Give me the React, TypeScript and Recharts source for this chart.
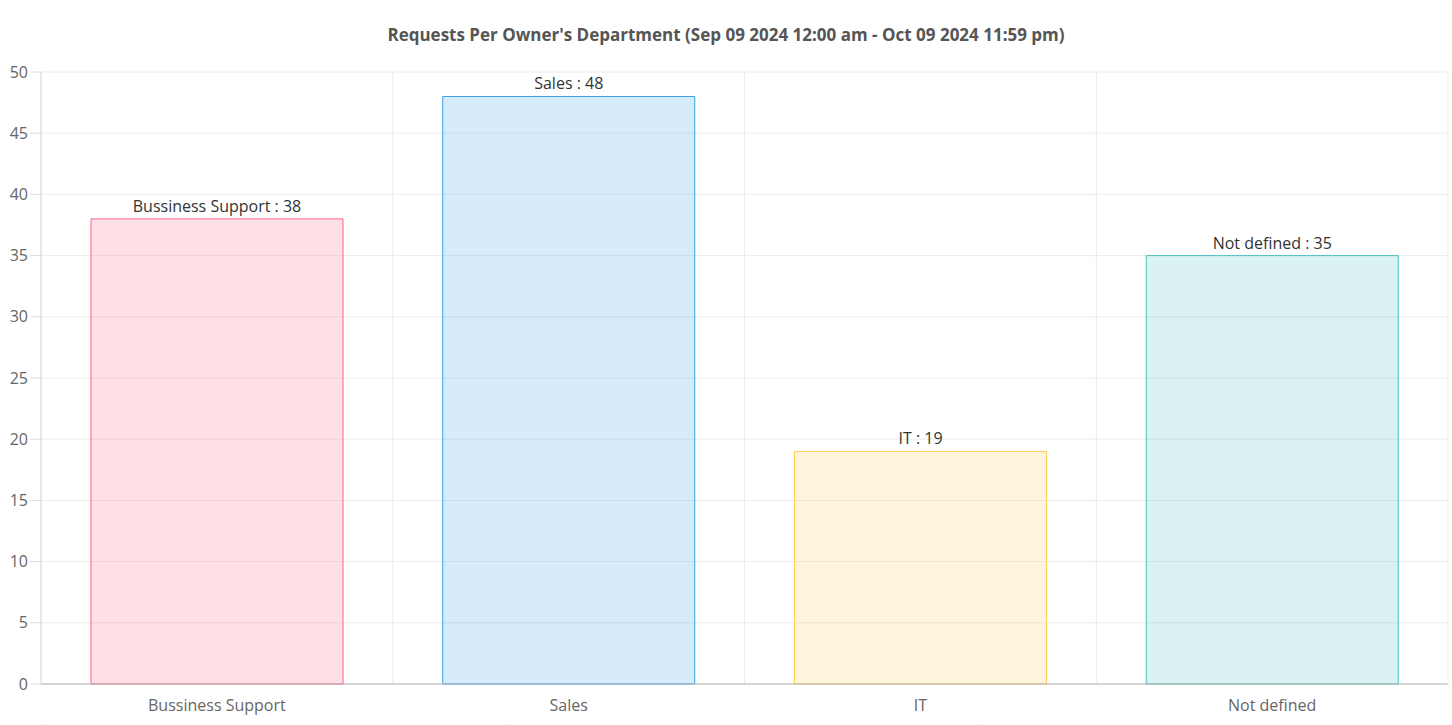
import React from "react";
import { BarChart, Bar, XAxis, YAxis, CartesianGrid, LabelList, Cell } from "recharts";

const categories = ["Bussiness Support", "Sales", "IT", "Not defined"];
const requestCounts = [38, 48, 19, 35];
const yTicks = [0, 5, 10, 15, 20, 25, 30, 35, 40, 45, 50];
const gridTicks = [0, 1, 2, 3, 4];
const fillColors = [
  "rgba(255,99,132,0.2)",
  "rgba(54,162,235,0.2)",
  "rgba(255,206,86,0.2)",
  "rgba(75,192,192,0.2)",
];
const strokeColors = [
  "rgb(255,99,132)",
  "rgb(54,162,235)",
  "rgb(255,206,86)",
  "rgb(75,192,192)",
];
const title = "Requests Per Owner's Department (Sep 09 2024 12:00 am - Oct 09 2024 11:59 pm)";

const data = categories.map((name, i) => ({ name, value: requestCounts[i], g: i }));

const FONT = "'Open Sans', 'Noto Sans', sans-serif";

const renderLabel = (props: any) => {
  const { x, y, width, index, value } = props;
  return (
    <text
      x={x + width / 2}
      y={y - 7}
      textAnchor="middle"
      fill="#333"
      fontSize={16}
      fontFamily={FONT}
    >
      {`${categories[index]} : ${value}`}
    </text>
  );
};

const emptyTick = () => <g />;

const verticalLines = ({ offset }: any) =>
  gridTicks.map((t) => offset.left + (offset.width * t) / (gridTicks.length - 1));

export default function App() {
  return (
    <div style={{ position: "absolute", left: 0, top: 0, width: 1452, height: 725, background: "#fff", fontFamily: FONT }}>
      <div
        style={{
          position: "absolute",
          top: 24,
          left: 0,
          width: 1452,
          textAlign: "center",
          fontSize: 17,
          fontWeight: 700,
          color: "#555",
          fontFamily: FONT,
          lineHeight: "22px",
        }}
      >
        {title}
      </div>
      <BarChart
        width={1452}
        height={725}
        data={data}
        margin={{ top: 72, right: 4, left: 0, bottom: 0 }}
        barCategoryGap={50}
      >
        <CartesianGrid
          stroke="#ececec"
          strokeWidth={1}
          verticalCoordinatesGenerator={verticalLines}
        />
        <XAxis
          xAxisId="grid"
          type="number"
          domain={[0, 4]}
          ticks={gridTicks}
          allowDataOverflow
          tick={emptyTick}
          axisLine={false}
          tickLine={{ stroke: "#ececec" }}
          tickSize={13}
          height={1}
        />
        <XAxis
          xAxisId="cat"
          dataKey="name"
          axisLine={{ stroke: "#b3b3b3" }}
          tickLine={false}
          tickSize={10}
          tickMargin={6}
          height={40}
          interval={0}
          tick={{ fill: "#666", fontSize: 16, fontFamily: FONT }}
        />
        <YAxis
          domain={[0, 50]}
          ticks={yTicks}
          width={41}
          axisLine={{ stroke: "#dcdcdc" }}
          tickLine={{ stroke: "#dcdcdc" }}
          tickSize={11}
          tickMargin={2}
          interval={0}
          tick={{ fill: "#666", fontSize: 16, fontFamily: FONT }}
        />
        <Bar xAxisId="cat" dataKey="value" isAnimationActive={false} strokeWidth={1}>
          {data.map((d, i) => (
            <Cell key={d.name} fill={fillColors[i]} stroke={strokeColors[i]} />
          ))}
          <LabelList dataKey="value" content={renderLabel} />
        </Bar>
      </BarChart>
    </div>
  );
}
